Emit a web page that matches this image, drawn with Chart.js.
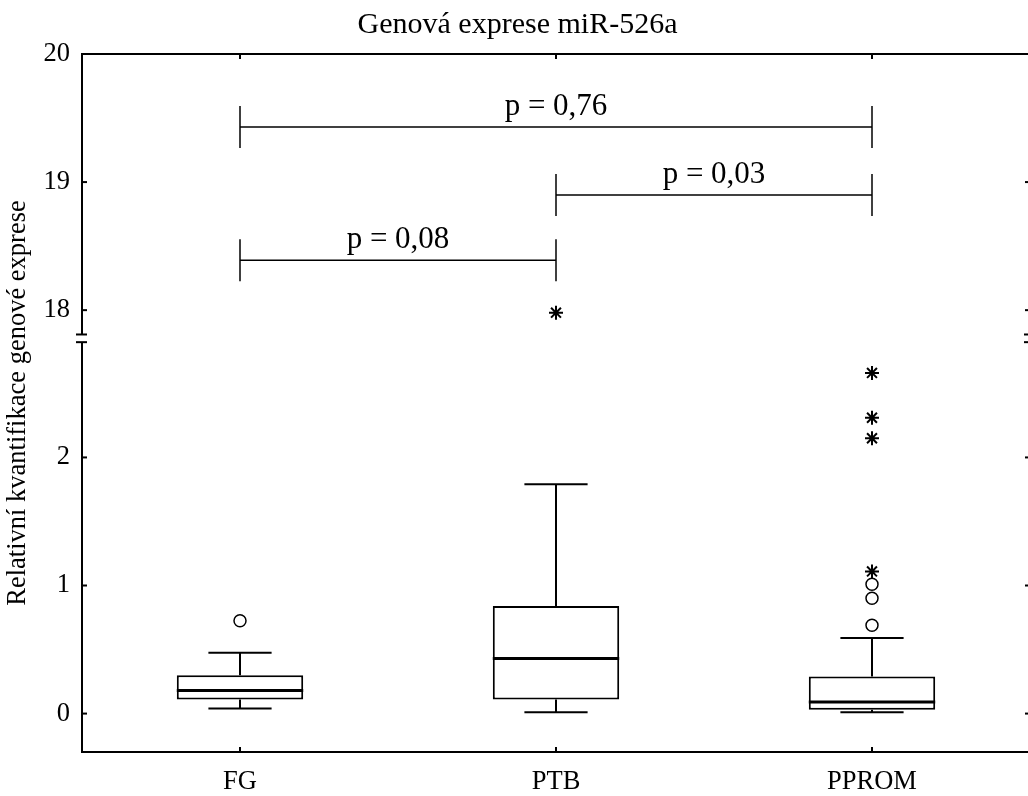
<!DOCTYPE html>
<html>
<head>
<meta charset="utf-8">
<title>Genová exprese miR-526a</title>
<script src="https://cdn.jsdelivr.net/npm/chart.js@4.4.0/dist/chart.umd.min.js"></script>
<style>
    html, body { margin: 0; padding: 0; background: #fff; overflow: hidden; }
    canvas { display: block; }
</style>
</head>
<body>
<canvas id="boxChart" width="1039" height="796"></canvas>
<script>
// Groups and box plot statistics
const groups = ['FG', 'PTB', 'PPROM'];
const whiskerLow = [0.04, 0.01, 0.01];
const quartile1 = [0.11, 0.11, 0.03];
const medians = [0.18, 0.43, 0.09];
const quartile3 = [0.30, 0.84, 0.29];
const whiskerHigh = [0.475, 1.79, 0.59];

// Outliers (circles) and extremes (asterisks) per group
const outliers = [[0.725], [], [0.69, 0.90, 1.01]];
const extremes = [[], [17.98], [1.11, 2.15, 2.31, 2.66]];

// Pairwise comparisons
const pairFrom = ['FG', 'PTB', 'FG'];
const pairTo = ['PPROM', 'PPROM', 'PTB'];
const pairLevel = [19.43, 18.90, 18.39];
const pairLabels = ['p = 0,76', 'p = 0,03', 'p = 0,08'];

// Y axis tick labels (axis is broken between 2.9 and 18)
const yTickValues = [0, 1, 2, 18, 19, 20];

const FONT = "'Liberation Serif', 'Times New Roman', serif";

// Broken axis: upper segment (18..20) is shifted down next to the lower one
const UPPER_START = 18;
const UPPER_POS = 3.15;
const BREAK_BOTTOM = 2.90;
const BREAK_TOP = 2.96;

function toAxis(v) {
    return v < 10 ? v : v - UPPER_START + UPPER_POS;
}

function points(list) {
    const out = [];
    list.forEach((vals, i) => vals.forEach(v => out.push({ x: groups[i], y: toAxis(v) })));
    return out;
}

function line(ctx, x1, y1, x2, y2) {
    ctx.beginPath();
    ctx.moveTo(x1, y1);
    ctx.lineTo(x2, y2);
    ctx.stroke();
}

// Whiskers, caps and medians
const boxParts = {
    id: 'boxParts',
    afterDatasetsDraw(chart) {
        const ctx = chart.ctx;
        const xs = chart.scales.x, ys = chart.scales.y;
        const boxes = chart.getDatasetMeta(0).data;
        ctx.save();
        ctx.strokeStyle = '#000';
        groups.forEach((g, i) => {
            const cx = xs.getPixelForValue(i);
            const half = boxes[i].width / 2;
            const cap = half / 2;
            const yLo = ys.getPixelForValue(toAxis(whiskerLow[i]));
            const yQ1 = ys.getPixelForValue(toAxis(quartile1[i]));
            const yMed = ys.getPixelForValue(toAxis(medians[i]));
            const yQ3 = ys.getPixelForValue(toAxis(quartile3[i]));
            const yHi = ys.getPixelForValue(toAxis(whiskerHigh[i]));
            ctx.lineWidth = 2;
            line(ctx, cx, yQ3, cx, yHi);
            line(ctx, cx, yQ1, cx, yLo);
            line(ctx, cx - cap, yHi, cx + cap, yHi);
            line(ctx, cx - cap, yLo, cx + cap, yLo);
            ctx.lineWidth = 3;
            line(ctx, cx - half, yMed, cx + half, yMed);
        });
        ctx.restore();
    }
};

// Frame with inward ticks, axis break marks and the p-value brackets
const frameAndBrackets = {
    id: 'frameAndBrackets',
    afterDraw(chart) {
        const ctx = chart.ctx;
        const { left, right, top, bottom } = chart.chartArea;
        const xs = chart.scales.x, ys = chart.scales.y;
        const gapTop = ys.getPixelForValue(BREAK_TOP);
        const gapBottom = ys.getPixelForValue(BREAK_BOTTOM);
        ctx.save();
        ctx.strokeStyle = '#000';
        ctx.lineWidth = 2;
        ctx.lineCap = 'square';
        line(ctx, left, top, right, top);
        line(ctx, left, bottom, right, bottom);
        ctx.lineCap = 'butt';
        [left, right].forEach(x => {
            line(ctx, x, top, x, gapTop);
            line(ctx, x, gapBottom, x, bottom);
            line(ctx, x - 6, gapTop, x + 5, gapTop);
            line(ctx, x - 6, gapBottom, x + 5, gapBottom);
        });
        ys.ticks.forEach(t => {
            const y = ys.getPixelForValue(t.value);
            line(ctx, left, y, left + 5, y);
            line(ctx, right, y, right - 5, y);
        });
        groups.forEach((g, i) => {
            const x = xs.getPixelForValue(i);
            line(ctx, x, top, x, top + 5);
            line(ctx, x, bottom, x, bottom - 5);
        });

        ctx.lineWidth = 1.5;
        ctx.font = '31px ' + FONT;
        ctx.fillStyle = '#000';
        ctx.textAlign = 'center';
        ctx.textBaseline = 'alphabetic';
        pairLabels.forEach((label, i) => {
            const x1 = xs.getPixelForValue(groups.indexOf(pairFrom[i]));
            const x2 = xs.getPixelForValue(groups.indexOf(pairTo[i]));
            const y = ys.getPixelForValue(toAxis(pairLevel[i]));
            line(ctx, x1, y, x2, y);
            line(ctx, x1, y - 21, x1, y + 21);
            line(ctx, x2, y - 21, x2, y + 21);
            ctx.fillText(label, (x1 + x2) / 2, y - 12);
        });
        ctx.restore();
    }
};

const ctx = document.getElementById('boxChart').getContext('2d');
new Chart(ctx, {
    type: 'bar',
    data: {
        labels: groups,
        datasets: [
            {
                label: 'Kvartily',
                data: quartile1.map((v, i) => [toAxis(v), toAxis(quartile3[i])]),
                backgroundColor: '#fff',
                borderColor: '#000',
                borderWidth: 2,
                borderSkipped: false,
                barPercentage: 0.4,
                categoryPercentage: 1
            },
            {
                type: 'scatter',
                label: 'Odlehlé hodnoty',
                data: points(outliers),
                pointStyle: 'circle',
                radius: 6,
                borderColor: '#000',
                backgroundColor: '#fff',
                borderWidth: 1.5
            },
            {
                type: 'scatter',
                label: 'Extrémy',
                data: points(extremes),
                pointStyle: 'star',
                radius: 7,
                borderColor: '#000',
                borderWidth: 2
            }
        ]
    },
    options: {
        responsive: false,
        animation: false,
        events: [],
        layout: { padding: { left: 0, right: 4, top: 0, bottom: 0 } },
        plugins: {
            legend: { display: false },
            tooltip: { enabled: false },
            title: {
                display: true,
                text: 'Genová exprese miR-526a',
                color: '#000',
                font: { family: FONT, size: 30, weight: 'normal' },
                padding: { top: 7, bottom: 11 }
            }
        },
        scales: {
            x: {
                type: 'category',
                offset: true,
                grid: { display: false, drawTicks: false },
                border: { display: false },
                ticks: { color: '#000', font: { family: FONT, size: 26.5 }, padding: 14 },
                afterFit: s => { s.height = 44; }
            },
            y: {
                type: 'linear',
                min: -0.3,
                max: toAxis(20),
                grid: { display: false, drawTicks: false },
                border: { display: false },
                afterBuildTicks: s => { s.ticks = yTickValues.map(v => ({ value: toAxis(v) })); },
                ticks: {
                    color: '#000',
                    font: { family: FONT, size: 26.5 },
                    padding: 12,
                    callback: (val, idx) => String(yTickValues[idx])
                },
                title: {
                    display: true,
                    text: 'Relativní kvantifikace genové exprese',
                    color: '#000',
                    font: { family: FONT, size: 26.5 },
                    padding: { top: 2, bottom: 0 }
                },
                afterFit: s => { s.width = 82; }
            }
        }
    },
    plugins: [boxParts, frameAndBrackets]
});
</script>
</body>
</html>
